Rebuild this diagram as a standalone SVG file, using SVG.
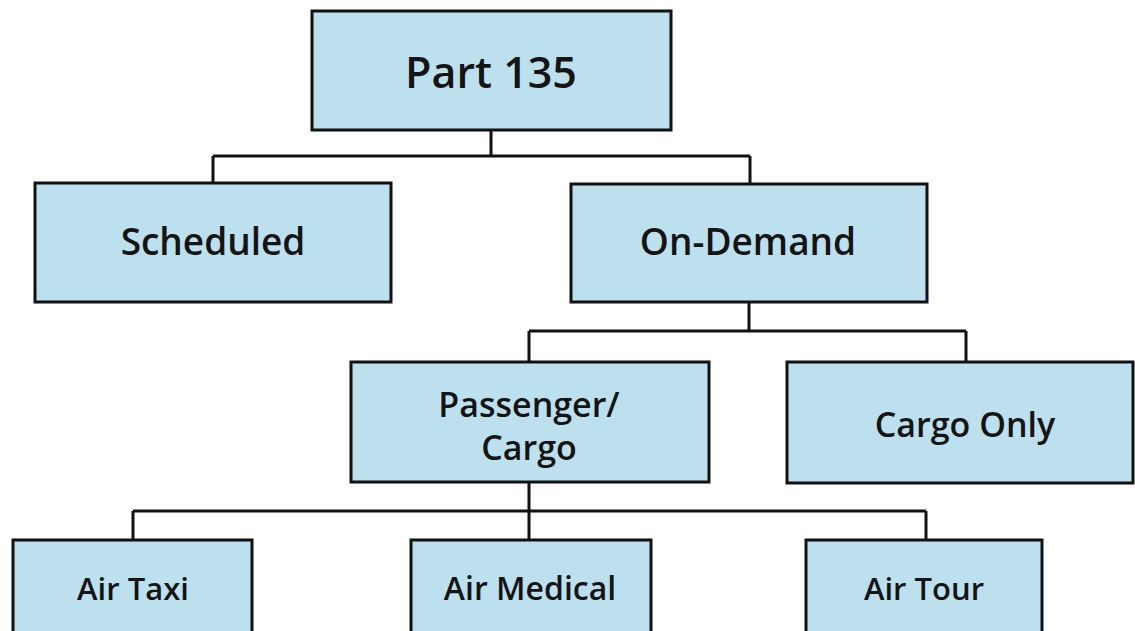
<svg xmlns="http://www.w3.org/2000/svg" width="1135" height="631" viewBox="0 0 1135 631">
<style>
.box{fill:#bde0ee;stroke:#111;stroke-width:3}
.lbl{font-family:"Open Sans","Noto Sans",sans-serif;font-weight:600;fill:#141414;text-anchor:middle}
.conn{fill:none;stroke:#111;stroke-width:3}
</style>
<rect width="1135" height="631" fill="#fff"/>
<g id="connectors">
<path class="conn" d="M491 130V156M213 156H750M213 156V183M750 156V184"/>
<path class="conn" d="M749 302V331M529 331H966M529 331V362M966 331V362"/>
<path class="conn" d="M529 482V511M133 511H926M133 511V540M529 511V540M926 511V540"/>
</g>
<g id="part135"><rect class="box" x="312" y="11" width="359" height="119"/><text class="lbl" x="491" y="88" font-size="43">Part 135</text></g>
<g id="scheduled"><rect class="box" x="35" y="183" width="356" height="119"/><text class="lbl" x="213" y="255" font-size="37">Scheduled</text></g>
<g id="ondemand"><rect class="box" x="571" y="184" width="356" height="118"/><text class="lbl" x="748" y="255" font-size="37">On-Demand</text></g>
<g id="passenger"><rect class="box" x="351" y="362" width="358" height="120"/><text class="lbl" x="529" y="417" font-size="34">Passenger/</text><text class="lbl" x="529" y="460" font-size="34">Cargo</text></g>
<g id="cargoonly"><rect class="box" x="787" y="362" width="346" height="121"/><text class="lbl" x="965" y="437" font-size="34">Cargo Only</text></g>
<g id="airtaxi"><rect class="box" x="13" y="540" width="239" height="100"/><text class="lbl" x="133" y="600" font-size="31">Air Taxi</text></g>
<g id="airmedical"><rect class="box" x="411" y="540" width="240" height="100"/><text class="lbl" x="530" y="600" font-size="32">Air Medical</text></g>
<g id="airtour"><rect class="box" x="806" y="540" width="236" height="100"/><text class="lbl" x="924" y="600" font-size="31">Air Tour</text></g>
</svg>
